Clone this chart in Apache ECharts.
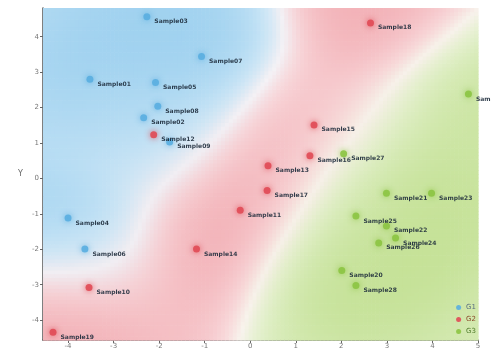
<!DOCTYPE html>
<html>
<head>
<meta charset="utf-8">
<script src="https://cdn.jsdelivr.net/npm/echarts@6/dist/echarts.min.js"></script>
<style>
  html, body { margin: 0; padding: 0; background: #ffffff; }
  #chart { width: 491px; height: 350px; }
</style>
</head>
<body>
<div id="chart"></div>
<script>
// Score plot: three groups with a soft class-membership background
const groupNames = ['G1', 'G2', 'G3'];

const g1Points = [
  [-2.27, 4.56], [-1.07, 3.44], [-3.52, 2.80], [-2.08, 2.71], [-2.03, 2.04],
  [-2.34, 1.71], [-1.77, 1.03], [-4.00, -1.12], [-3.63, -1.99]
];
const g1Labels = ['Sample03', 'Sample07', 'Sample01', 'Sample05', 'Sample08',
  'Sample02', 'Sample09', 'Sample04', 'Sample06'];

const g2Points = [
  [-2.12, 1.23], [2.64, 4.39], [1.40, 1.51], [1.31, 0.64], [0.39, 0.36],
  [0.37, -0.34], [-0.22, -0.90], [-1.18, -1.99], [-3.54, -3.08], [-4.33, -4.34]
];
const g2Labels = ['Sample12', 'Sample18', 'Sample15', 'Sample16', 'Sample13',
  'Sample17', 'Sample11', 'Sample14', 'Sample10', 'Sample19'];

const g3Points = [
  [4.79, 2.38], [2.05, 0.70], [2.99, -0.42], [3.98, -0.42], [2.32, -1.06],
  [2.99, -1.34], [3.19, -1.68], [2.82, -1.82], [2.01, -2.60], [2.32, -3.02]
];
const g3Labels = ['Sample29', 'Sample27', 'Sample21', 'Sample23', 'Sample25',
  'Sample22', 'Sample24', 'Sample26', 'Sample20', 'Sample28'];

const xTicks = [-4, -3, -2, -1, 0, 1, 2, 3, 4, 5];
const yTicks = [-4, -3, -2, -1, 0, 1, 2, 3, 4];
const xRange = [-4.55, 5.0];
const yRange = [-4.56, 4.81];

const markerColors = ['#5aaee0', '#e04a55', '#8cc443'];
const fieldColors = [[140, 200, 236], [238, 150, 158], [188, 221, 135]];
const legendTextColors = ['#5a6f80', '#8a4a2a', '#4f7a2a'];

// Soft membership field from Gaussian kernels around each group's points
const groups = [g1Points, g2Points, g3Points];
const nx = 110, ny = 90;
const dx = (xRange[1] - xRange[0]) / nx;
const dy = (yRange[1] - yRange[0]) / ny;
const sigma = 1.25;
const cells = [];
const cellColors = [];
for (let i = 0; i < nx; i++) {
  for (let j = 0; j < ny; j++) {
    const x = xRange[0] + (i + 0.5) * dx;
    const y = yRange[0] + (j + 0.5) * dy;
    const w = groups.map(pts => pts.reduce((s, p) => {
      const d2 = (p[0] - x) ** 2 + (p[1] - y) ** 2;
      return s + Math.exp(-d2 / (2 * sigma * sigma));
    }, 0));
    const tot = w[0] + w[1] + w[2] + 1e-9;
    const p = w.map(v => v / tot);
    const sharp = p.map(v => v ** 4);
    const st = sharp[0] + sharp[1] + sharp[2];
    const pmax = Math.max(p[0], p[1], p[2]);
    const conf = Math.max(0, (pmax - 0.45) / 0.55);
    const a = 0.12 + 0.88 * Math.pow(conf, 0.8);
    const dens = 1 - Math.exp(-tot * 0.9);
    const k = a * (0.62 + 0.25 * dens);
    const rgb = [0, 1, 2].map(c => {
      const m = (sharp[0] * fieldColors[0][c] + sharp[1] * fieldColors[1][c] + sharp[2] * fieldColors[2][c]) / st;
      return Math.round(255 + (m - 255) * k);
    });
    cells.push([x, y]);
    cellColors.push('rgb(' + rgb.join(',') + ')');
  }
}

const chart = echarts.init(document.getElementById('chart'), null, { renderer: 'canvas' });

function scatterSeries(idx, pts, labels) {
  return {
    name: groupNames[idx],
    type: 'scatter',
    z: 5,
    data: pts.map((p, k) => ({ value: p, name: labels[k] })),
    symbol: 'circle',
    symbolSize: 7,
    itemStyle: {
      color: markerColors[idx],
      opacity: 0.9,
      shadowBlur: 6,
      shadowColor: markerColors[idx]
    },
    label: {
      show: true,
      formatter: '{b}',
      position: 'right',
      offset: [-1, 5],
      fontSize: 6,
      fontWeight: 'bold',
      fontFamily: 'DejaVu Sans',
      color: '#1c2a3a'
    },
    emphasis: { disabled: true }
  };
}

chart.setOption({
  animation: false,
  backgroundColor: '#ffffff',
  grid: { left: 43, right: 13, top: 8, bottom: 7, containLabel: false },
  legend: {
    orient: 'vertical',
    right: 10,
    bottom: 10,
    itemGap: 5,
    itemWidth: 5,
    itemHeight: 5,
    icon: 'circle',
    textStyle: { fontSize: 7, fontFamily: 'DejaVu Sans' },
    data: groupNames.map((n, i) => ({ name: n, textStyle: { color: legendTextColors[i] } }))
  },
  xAxis: {
    type: 'value',
    min: xRange[0],
    max: xRange[1],
    splitLine: { show: false },
    axisLine: { onZero: false, lineStyle: { color: '#555', width: 1.5 } },
    axisTick: { customValues: xTicks, length: 3, lineStyle: { color: '#666' } },
    axisLabel: { customValues: xTicks, fontSize: 7, color: '#777', margin: 3, fontFamily: 'DejaVu Sans' }
  },
  yAxis: {
    type: 'value',
    name: 'Y',
    nameLocation: 'middle',
    nameGap: 20,
    nameRotate: 0,
    nameTextStyle: { fontSize: 8, color: '#666', fontFamily: 'DejaVu Sans' },
    min: yRange[0],
    max: yRange[1],
    splitLine: { show: false },
    axisLine: { onZero: false, lineStyle: { color: '#555', width: 1.5 } },
    axisTick: { customValues: yTicks, length: 3, lineStyle: { color: '#666' } },
    axisLabel: { customValues: yTicks, fontSize: 7, color: '#777', margin: 4, fontFamily: 'DejaVu Sans' }
  },
  series: [
    {
      type: 'custom',
      silent: true,
      z: 1,
      clip: true,
      data: cells,
      encode: { x: 0, y: 1 },
      renderItem: function (params, api) {
        const x = api.value(0), y = api.value(1);
        const p0 = api.coord([x - dx / 2, y + dy / 2]);
        const p1 = api.coord([x + dx / 2, y - dy / 2]);
        return {
          type: 'rect',
          shape: { x: p0[0], y: p0[1], width: p1[0] - p0[0] + 0.6, height: p1[1] - p0[1] + 0.6 },
          style: { fill: cellColors[params.dataIndex] }
        };
      }
    },
    scatterSeries(0, g1Points, g1Labels),
    scatterSeries(1, g2Points, g2Labels),
    scatterSeries(2, g3Points, g3Labels)
  ]
});
</script>
</body>
</html>
